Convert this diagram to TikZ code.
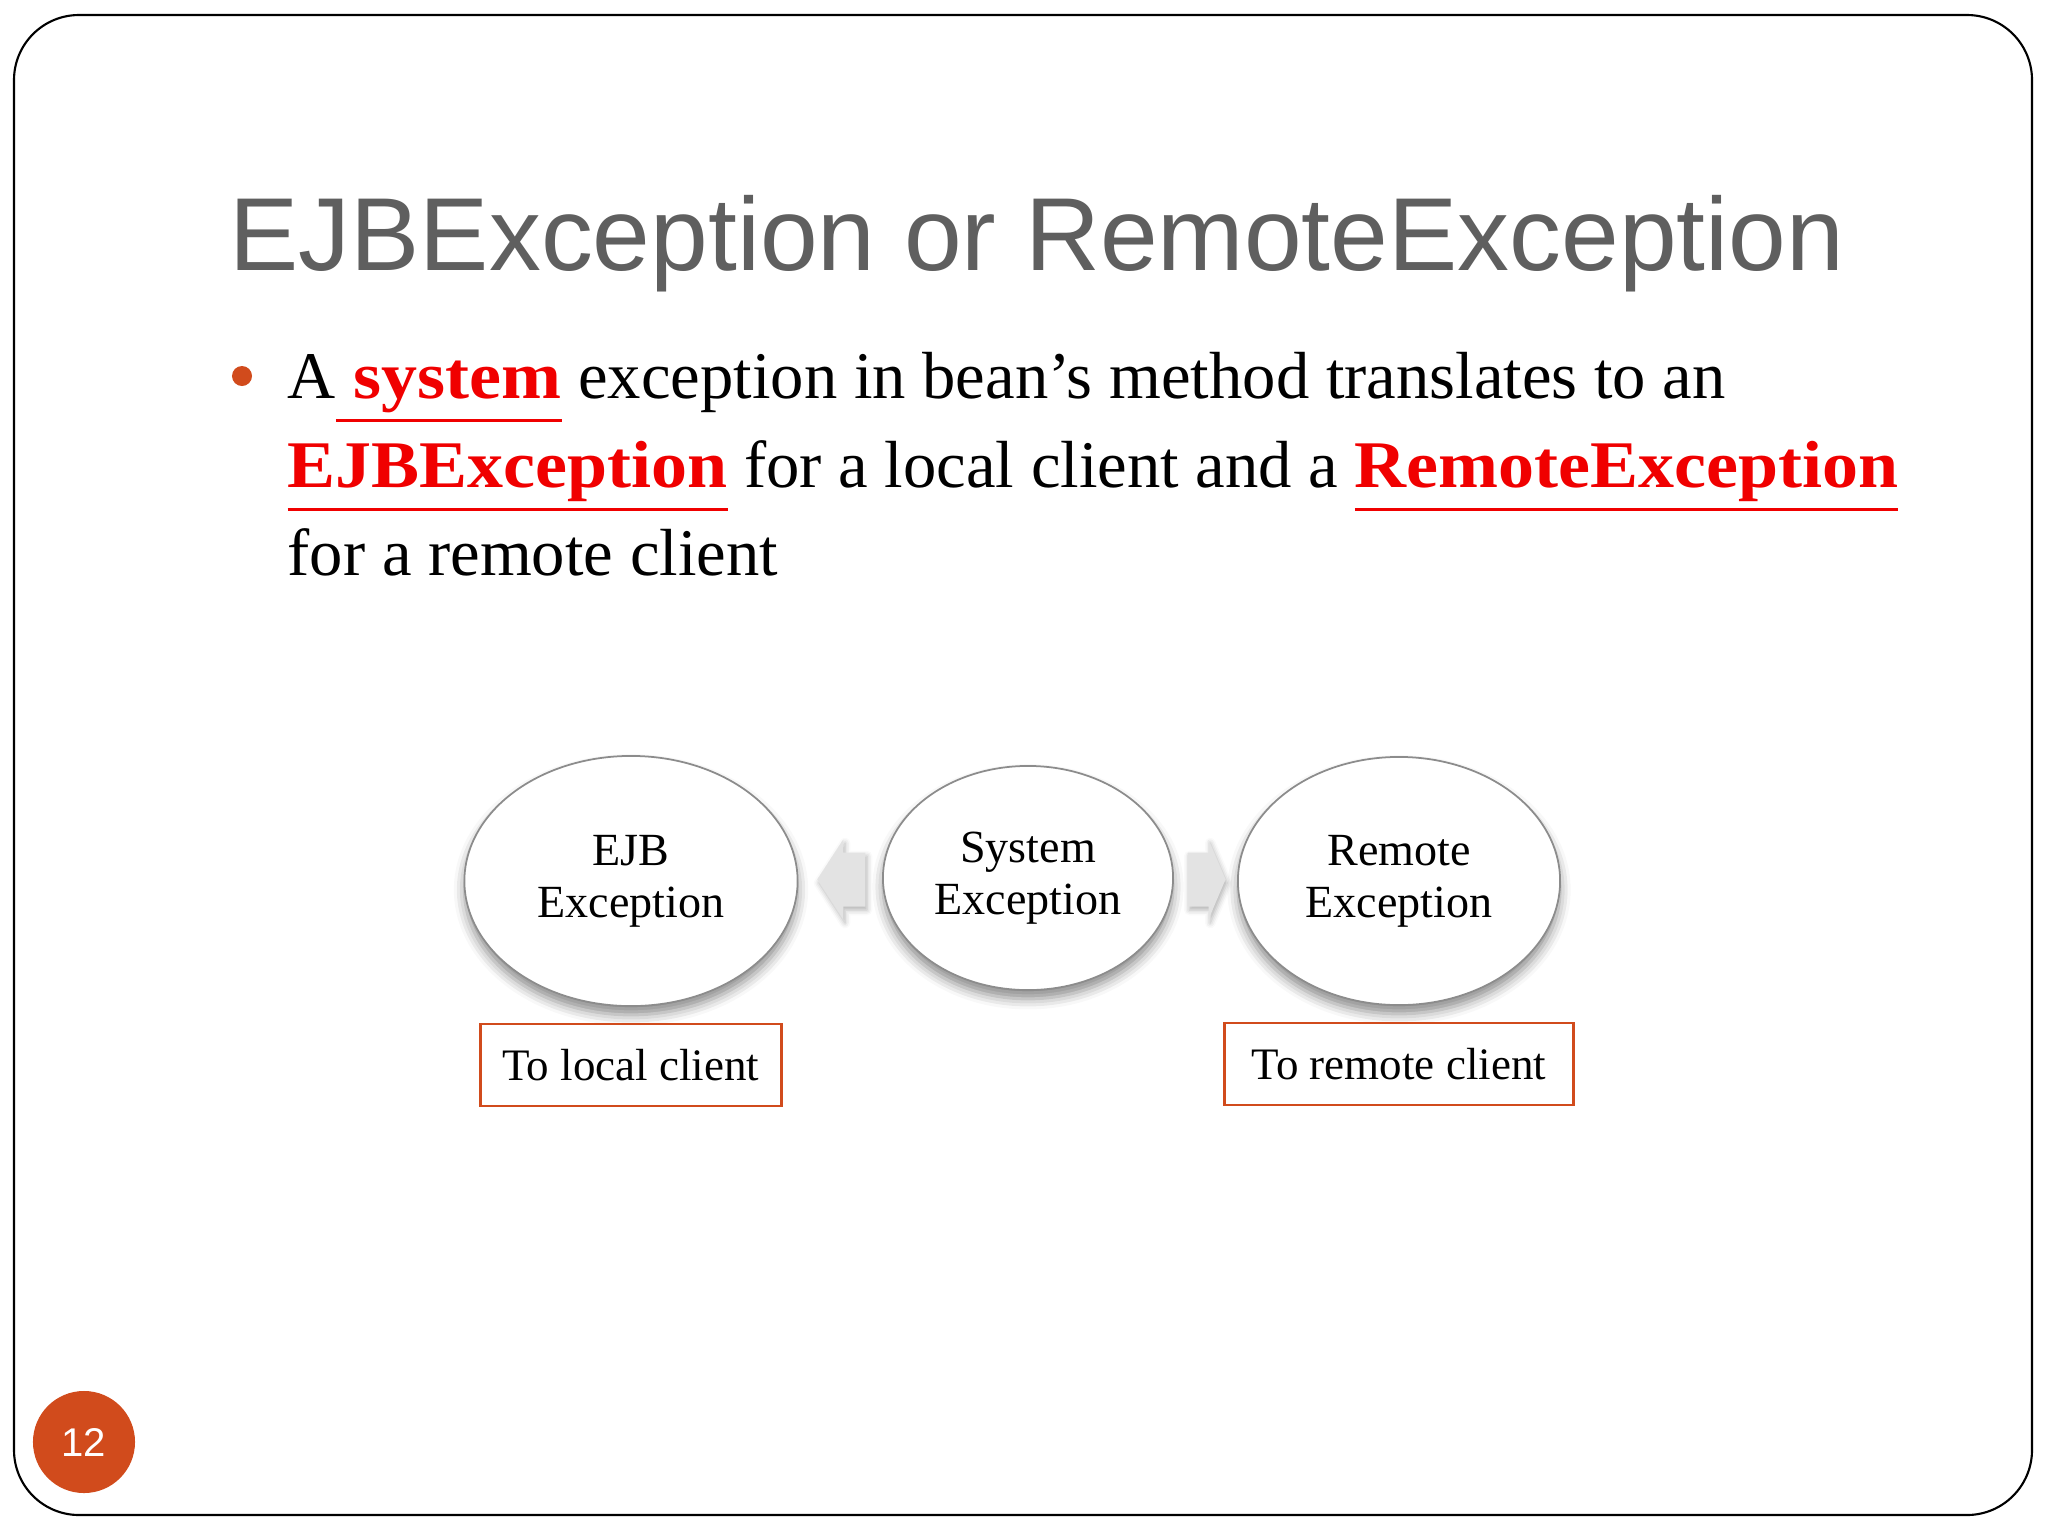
\documentclass[tikz,border=0pt]{standalone}
\usepackage{fontspec}
\usepackage{graphicx}
\setmainfont{Liberation Serif}
\newfontfamily\headfont{Liberation Sans}
\usetikzlibrary{positioning,shapes.geometric,shadows.blur,calc}
\definecolor{accent}{RGB}{209,75,28}
\definecolor{headgray}{RGB}{95,95,95}
\definecolor{hired}{RGB}{240,0,0}
\newcommand\redul[1]{{\color{hired}\bfseries\setbox0\hbox{\scalebox{1.08}[1]{#1}}%
  \rlap{\rule[-6.7pt]{\wd0}{0.85pt}}\box0}}
\tikzset{%
    every node/.style={inner sep=0pt},
    bubble/.style={ellipse,draw=black!45,line width=0.5pt,fill=white,align=center,
        font=\fontsize{13.1}{14.8}\selectfont,
        blur shadow={shadow xshift=0pt,shadow yshift=-2.5pt,shadow blur radius=3pt,shadow opacity=45}},
    target/.style={draw=accent,line width=0.7pt,minimum height=0.82cm,
        font=\fontsize{12.8}{15}\selectfont},
    body/.style={anchor=base west,font=\fontsize{18.95}{25}\selectfont},
    blockarr/.style={fill=black!11,
        blur shadow={shadow xshift=0.5pt,shadow yshift=-1pt,shadow blur radius=1.5pt,shadow opacity=30}},
    lt/.style={shift={(-23,0)}},
    rt/.style={shift={(20,0)}}
}

\begin{document}
\begin{tikzpicture}[x=0.01cm,y=-0.01cm]
            \useasboundingbox (0,0) rectangle (2048,1536);
            \draw[line width=0.6pt,rounded corners=0.65cm] (14,15) rectangle (2032,1515);
            \node [anchor=base west,text=headgray,font=\headfont\fontsize{29.5}{34}\selectfont]
            (title) at (229,270) {EJBException or RemoteException};
            %%%%%
            \node [circle,fill=accent,minimum size=0.2cm] (bullet) at (242,376) {};
            \node [body] (l1) at (287,398) {A\redul{\ system} exception in bean’s method translates to an};
            \node [body] (l2) at (287,487) {\redul{EJBException} for a local client and a \redul{RemoteException}};
            \node [body] (l3) at (287,575) {for a remote client};
            %%%%%
            \node [bubble,minimum width=3.33cm,minimum height=2.5cm] (ejb) at (631,881) {EJB\\Exception};
            \node [bubble,minimum width=2.9cm,minimum height=2.24cm] (sys) at (1028,878) {System\\Exception};
            \node [bubble,minimum width=3.22cm,minimum height=2.48cm] (rem) at (1399,881) {Remote\\Exception};
            \node [target,minimum width=3.01cm,below=0.16cm of ejb] (tolocal) {To local client};
            \node [target,minimum width=3.49cm,below=0.16cm of rem] (toremote) {To remote client};
            %%%%%
            \coordinate (la) at ($(ejb.east)!0.5!(sys.west)$);
            \coordinate (ra) at ($(sys.east)!0.5!(rem.west)$);
            \fill[blockarr] ([lt]la) -- ([shift={(3,-40)}]la) -- ([shift={(3,-27)}]la)
            -- ([shift={(25,-27)}]la) -- ([shift={(25,27)}]la) -- ([shift={(3,27)}]la)
            -- ([shift={(3,40)}]la) -- cycle;
            \fill[blockarr] ([rt]ra) -- ([shift={(3,-40)}]ra) -- ([shift={(3,-27)}]ra)
            -- ([shift={(-18,-27)}]ra) -- ([shift={(-18,27)}]ra) -- ([shift={(3,27)}]ra)
            -- ([shift={(3,40)}]ra) -- cycle;
            %%%%%
            \node [circle,fill=accent,minimum size=1.02cm,text=white,
            font=\headfont\fontsize{11.4}{12}\selectfont] (pgno) at (84,1442) {12};
\end{tikzpicture}
\end{document}
